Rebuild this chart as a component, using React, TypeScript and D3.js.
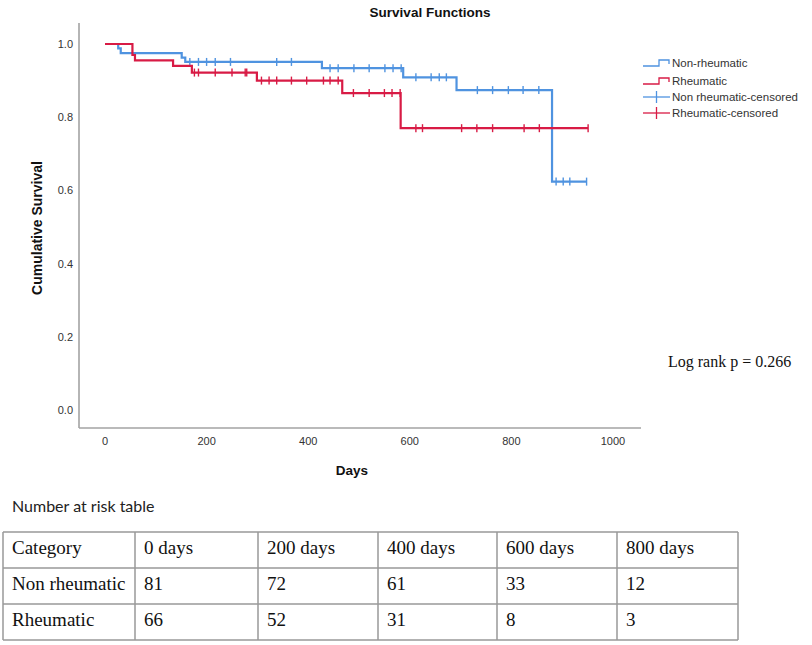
import React from "react";
import * as d3 from "d3";

// ---- data ----
const blueTimes = [0, 26, 31, 151, 158, 427, 587, 692, 880];
const blueSurv = [1, 0.988, 0.975, 0.963, 0.951, 0.934, 0.909, 0.874, 0.624];
const blueEnd = 948;
const redTimes = [0, 54, 59, 134, 171, 299, 467, 582];
const redSurv = [1, 0.97, 0.955, 0.94, 0.922, 0.9, 0.866, 0.77];
const redEnd = 951;
const blueCensored = [167, 184, 200, 217, 247, 338, 367, 443, 459, 490, 520, 551, 567, 583, 612, 642, 658, 672, 733, 763, 794, 823, 854, 888, 902, 915, 948];
const redCensored = [176, 184, 217, 250, 276, 279, 308, 323, 338, 367, 397, 430, 443, 459, 489, 520, 550, 565, 581, 612, 625, 702, 732, 763, 825, 855, 951];
const xTicks = [0, 200, 400, 600, 800, 1000];
const yTicks = [0, 0.2, 0.4, 0.6, 0.8, 1.0];
const legendLabels = ["Non-rheumatic", "Rheumatic", "Non rheumatic-censored", "Rheumatic-censored"];
const tableHeader = ["Category", "0 days", "200 days", "400 days", "600 days", "800 days"];
const tableRowNames = ["Non rheumatic", "Rheumatic"];
const nonRheumaticRisk = [81, 72, 61, 33, 12];
const rheumaticRisk = [66, 52, 31, 8, 3];

const BLUE = "#4f93e0";
const RED = "#d81b45";
const AXIS = "#a3a3a3";
const SANS = "'Liberation Sans', Arial, sans-serif";
const SERIF = "'Liberation Serif', 'Times New Roman', serif";

const x = d3.scaleLinear().domain([0, 1000]).range([105, 613]);
const y = d3.scaleLinear().domain([0, 1]).range([410, 44]);

function stepPoints(times: number[], surv: number[], end: number): [number, number][] {
  const pts: [number, number][] = times.map((t, i) => [t, surv[i]]);
  pts.push([end, surv[surv.length - 1]]);
  return pts;
}
function levelAt(times: number[], surv: number[], t: number) {
  const i = d3.bisectRight(times, t) - 1;
  return surv[Math.max(0, i)];
}

const line = d3
  .line<[number, number]>()
  .x((d) => x(d[0]))
  .y((d) => y(d[1]))
  .curve(d3.curveStepAfter);

export default function App() {
  const xLeft = x.invert(79);
  const xRight = x.invert(641);
  const yBottom = y.invert(428);
  const yTop = y.invert(23);

  const colX = [3, 135, 258, 378, 497, 617, 738];
  const rowY = [532, 568, 604, 640];
  const rows = [tableHeader, [tableRowNames[0], ...nonRheumaticRisk.map(String)], [tableRowNames[1], ...rheumaticRisk.map(String)]];

  const lg = 643;
  const legendY = [63, 81, 97, 113];

  return (
    <svg
      width={812}
      height={645}
      style={{ position: "absolute", left: 0, top: 0, background: "#fff" }}
      fontFamily={SANS}
    >
      <rect width={812} height={645} fill="#fff" />
      <text x={430} y={17} textAnchor="middle" fontSize={13.5} fontWeight="bold" fill="#111">
        Survival Functions
      </text>

      {/* axes */}
      <line x1={x(xLeft)} x2={x(xLeft)} y1={y(yTop)} y2={y(yBottom)} stroke={AXIS} strokeWidth={1.6} />
      <line x1={x(xLeft)} x2={x(xRight)} y1={y(yBottom)} y2={y(yBottom)} stroke={AXIS} strokeWidth={1.6} />
      {yTicks.map((t) => (
        <text key={t} x={73} y={y(t) + 4} textAnchor="end" fontSize={11} fill="#333">
          {d3.format(".1f")(t)}
        </text>
      ))}
      {xTicks.map((t) => (
        <text key={t} x={x(t)} y={445} textAnchor="middle" fontSize={11} fill="#333">
          {t}
        </text>
      ))}
      <text
        transform={`translate(42,228) rotate(-90)`}
        textAnchor="middle"
        fontSize={14}
        fontWeight="bold"
        fill="#111"
      >
        Cumulative Survival
      </text>
      <text x={352} y={475} textAnchor="middle" fontSize={13.5} fontWeight="bold" fill="#111">
        Days
      </text>

      {/* curves */}
      <path d={line(stepPoints(blueTimes, blueSurv, blueEnd)) || ""} fill="none" stroke={BLUE} strokeWidth={2.2} />
      {blueCensored.map((t, i) => {
        const s = levelAt(blueTimes, blueSurv, t);
        return <line key={"b" + i} x1={x(t)} x2={x(t)} y1={y(s) - 4} y2={y(s) + 4} stroke={BLUE} strokeWidth={1.4} />;
      })}
      <path d={line(stepPoints(redTimes, redSurv, redEnd)) || ""} fill="none" stroke={RED} strokeWidth={2.2} />
      {redCensored.map((t, i) => {
        const s = levelAt(redTimes, redSurv, t);
        return <line key={"r" + i} x1={x(t)} x2={x(t)} y1={y(s) - 4} y2={y(s) + 4} stroke={RED} strokeWidth={1.4} />;
      })}

      {/* legend */}
      {legendLabels.map((lab, i) => {
        const cy = legendY[i];
        const col = i % 2 === 0 ? BLUE : RED;
        return (
          <g key={lab}>
            {i < 2 ? (
              <path
                d={`M${lg},${cy + 3}H${lg + 16}V${cy - 3}H${lg + 26}V${cy + 1}`}
                fill="none"
                stroke={col}
                strokeWidth={1.3}
              />
            ) : (
              <g>
                <line x1={lg} x2={lg + 27} y1={cy} y2={cy} stroke={col} strokeWidth={1.3} />
                <line x1={lg + 13.5} x2={lg + 13.5} y1={cy - 6} y2={cy + 6} stroke={col} strokeWidth={1.3} />
              </g>
            )}
            <text x={lg + 29} y={cy + 4} fontSize={11.5} fill="#333">
              {lab}
            </text>
          </g>
        );
      })}

      <text x={668} y={367} fontFamily={SERIF} fontSize={16} fill="#111">
        Log rank p = 0.266
      </text>

      {/* number at risk table */}
      <text x={12} y={512} fontFamily="Lato, 'Open Sans', sans-serif" fontSize={16} fill="#222">
        Number at risk table
      </text>
      <g stroke="#999" strokeWidth={1.5}>
        {rowY.map((ry, i) => (
          <line key={"h" + i} x1={colX[0]} x2={colX[colX.length - 1]} y1={ry} y2={ry} />
        ))}
        {colX.map((cx, i) => (
          <line key={"v" + i} x1={cx} x2={cx} y1={rowY[0]} y2={rowY[rowY.length - 1]} />
        ))}
      </g>
      {rows.map((r, ri) =>
        r.map((cell, ci) => (
          <text key={ri + "-" + ci} x={colX[ci] + 9} y={rowY[ri] + 22} fontFamily={SERIF} fontSize={19} fill="#111">
            {cell}
          </text>
        ))
      )}
    </svg>
  );
}
